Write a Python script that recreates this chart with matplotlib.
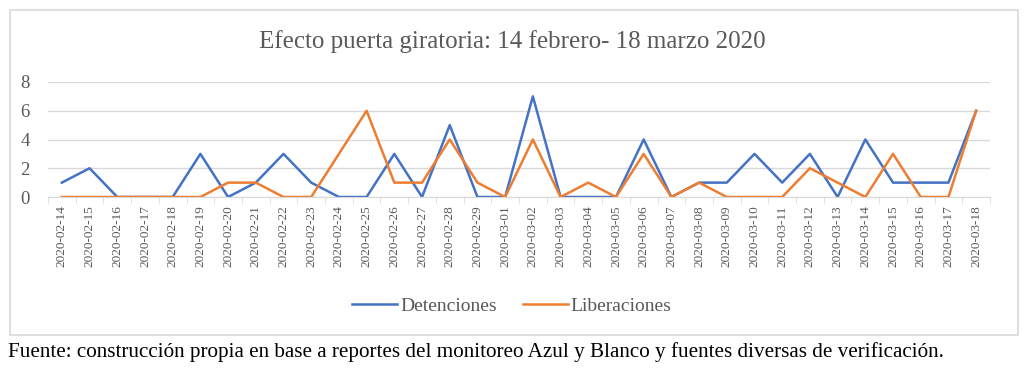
import numpy as np
import matplotlib.pyplot as plt
from matplotlib.patches import Rectangle

# -------------------------------------------------
# Data
# -------------------------------------------------
fechas = (
    [f"2020-02-{d:02d}" for d in range(14, 30)]
    + [f"2020-03-{d:02d}" for d in range(1, 19)]
)
detenciones = [1, 2, 0, 0, 0, 3, 0, 1, 3, 1, 0, 0, 3, 0, 5, 0,
               0, 7, 0, 0, 0, 4, 0, 1, 1, 3, 1, 3, 0, 4, 1, 1, 1, 6]
liberaciones = [0, 0, 0, 0, 0, 0, 1, 1, 0, 0, 3, 6, 1, 1, 4, 1,
                0, 4, 0, 1, 0, 3, 0, 1, 0, 0, 0, 2, 1, 0, 3, 0, 0, 6]

titulo = "Efecto puerta giratoria: 14 febrero- 18 marzo 2020"
fuente = ("Fuente: construcción propia en base a reportes del monitoreo "
          "Azul y Blanco y fuentes diversas de verificación.")

# -------------------------------------------------
# Figure
# -------------------------------------------------
plt.rcParams["font.family"] = ["Liberation Serif", "DejaVu Serif"]
gray = "#595959"

W, H = 1024, 368
fig = plt.figure(figsize=(W / 100, H / 100), dpi=100)

# outer chart border
fig.patches.append(Rectangle((10 / W, 1 - 335 / H), 1008 / W, 325 / H,
                             transform=fig.transFigure, fill=False,
                             edgecolor="#d9d9d9", linewidth=1.2))

ax = fig.add_axes([48 / W, 1 - 197 / H, 942 / W, 115 / H])
x = np.arange(len(fechas))
ax.plot(x, detenciones, color="#4472C4", linewidth=1.8, label="Detenciones")
ax.plot(x, liberaciones, color="#ED7D31", linewidth=1.8, label="Liberaciones")

ax.set_xlim(-0.5, len(fechas) - 0.5)
ax.set_ylim(0, 8)
ax.set_yticks([0, 2, 4, 6, 8])
ax.grid(axis="y", color="#d9d9d9", linewidth=1)
ax.set_axisbelow(True)

ax.set_xticks(x)
ax.set_xticklabels(fechas, rotation=90, fontsize=9.5, color=gray)
ax.set_xticks(np.arange(-0.5, len(fechas)), minor=True)
ax.tick_params(axis="x", which="major", length=0, pad=6)
ax.tick_params(axis="x", which="minor", length=4, color="#d9d9d9")
ax.tick_params(axis="y", length=0, labelsize=13.5, labelcolor=gray, pad=13)

for s in ["top", "right", "left"]:
    ax.spines[s].set_visible(False)
ax.spines["bottom"].set_color("#d9d9d9")

fig.text(0.5, 1 - 42 / H, titulo, ha="center", va="center",
         fontsize=18, color=gray)

fig.legend(loc="center", bbox_to_anchor=(512 / W, 1 - 306 / H), ncol=2,
           frameon=False, fontsize=14, labelcolor=gray,
           handlelength=2.3, handletextpad=0.15, columnspacing=1.35)

fig.text(8 / W, 1 - 352 / H, fuente, ha="left", va="center",
         fontsize=15.2, color="black")

plt.savefig("out.png", dpi=100)
plt.close()
